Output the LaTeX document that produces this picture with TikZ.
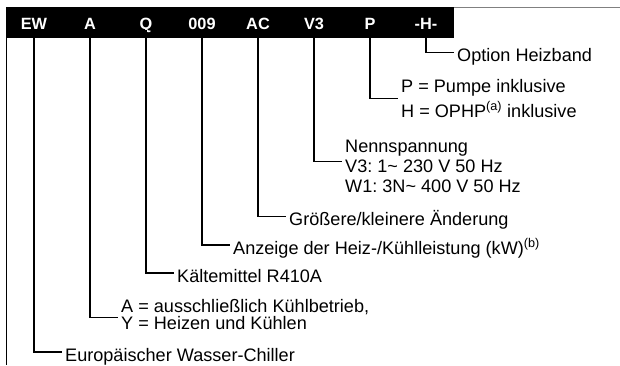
\documentclass[tikz,border=0pt]{standalone}
\usepackage{fontspec}
\setmainfont{Liberation Sans}
\usepackage{tikz}
\frenchspacing

\begin{document}
\begin{tikzpicture}[x=1pt, y=-1pt,
  code/.style={font=\fontsize{16.3}{18}\selectfont\bfseries, text=white, inner sep=0pt, text height=11.7pt, text depth=0pt},
  desc/.style={anchor=west, align=left, inner xsep=3.5pt, inner ysep=0pt, font=\fontsize{18.1}{21}\selectfont},
  one/.style={desc, text height=18pt, text depth=0pt},
  conn/.style={line width=1.1pt}]
  \useasboundingbox (0,0) rectangle (620,365);
  % frame and code bar
  \draw[gray, line width=1pt] (6,7) -- (620,7);
  \draw[line width=1pt] (6,7) -- (6,365);
  \fill[black] (6,7) rectangle (454,38);
  \node[code] (ew) at (34,23.5) {EW};
  \node[code] (a) at (90,23.5) {A};
  \node[code] (q) at (146,23.5) {Q};
  \node[code] (c009) at (202,23.5) {009};
  \node[code] (ac) at (258,23.5) {AC};
  \node[code] (v3) at (314,23.5) {V3};
  \node[code] (p) at (370,23.5) {P};
  \node[code] (h) at (426,23.5) {-H-};
  % descriptions
  \node[one] (dh) at (453.5,52.5) {Option Heizband};
  \node[desc, font=\fontsize{18.1}{24.2}\selectfont] (dp) at (397.5,98.5) {P = Pumpe inklusive\\H = OPHP\textsuperscript{(a)} inklusive};
  \node[desc, font=\fontsize{18.1}{20}\selectfont] (dv) at (341.5,166.7) {Nennspannung\\V3: 1\textasciitilde{} 230 V 50 Hz\\W1: 3N\textasciitilde{} 400 V 50 Hz};
  \node[one] (dac) at (285.5,216.7) {Größere/kleinere Änderung};
  \node[one] (d009) at (229.5,245) {Anzeige der Heiz-/Kühlleistung (kW)\textsuperscript{(b)}};
  \node[one] (dq) at (173.5,273) {Kältemittel R410A};
  \node[desc, font=\fontsize{18.1}{17.5}\selectfont] (da) at (117.5,314.5) {A = ausschließlich Kühlbetrieb,\\Y = Heizen und Kühlen};
  \node[one] (dew) at (61.5,352) {Europäischer Wasser-Chiller};
  % connectors
  \draw[conn] (h.south) |- (dh.west);
  \draw[conn] (p.south) |- (dp.west);
  \draw[conn] (v3.south) |- ([yshift=5pt]dv.west);
  \draw[conn] (ac.south) |- (dac.west);
  \draw[conn] (c009.south) |- (d009.west);
  \draw[conn] (q.south) |- (dq.west);
  \draw[conn] (a.south) |- ([yshift=-3pt]da.west);
  \draw[conn] (ew.south) |- (dew.west);
\end{tikzpicture}
\end{document}
